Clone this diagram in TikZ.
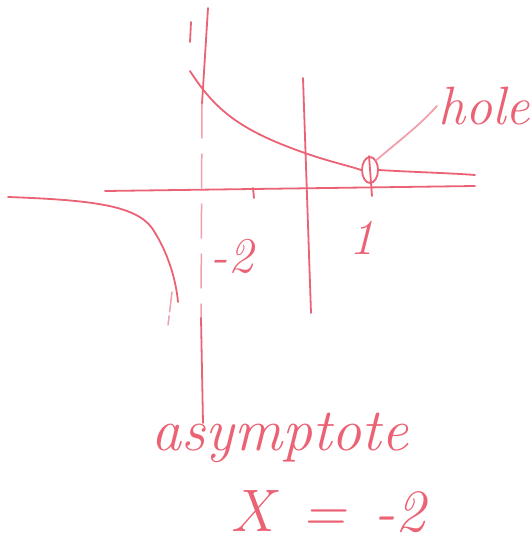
\documentclass[tikz,border=0pt]{standalone}
\usepackage{xcolor}
\usepackage{tikz}
\usetikzlibrary{arrows.meta,positioning,shapes.geometric}
\definecolor{inkred}{RGB}{234,98,116}
\definecolor{inkpale}{RGB}{240,160,172}
\tikzset{
  ink/.style={
    draw=inkred,
    line width=1.8pt,
    line cap=round,
    line join=round
  },
  faintink/.style={
    draw=inkpale,
    line width=1.5pt,
    line cap=round,
    dash pattern=on 34pt off 16pt
  },
  hand/.style={
    text=inkred,
    inner sep=1pt,
    font=\itshape\fontsize{50}{50}\selectfont
  },
  bighand/.style={
    text=inkred,
    inner sep=1pt,
    font=\itshape\fontsize{60}{60}\selectfont
  },
  holemark/.style={
    draw=inkred,
    line width=1.8pt,
    ellipse,
    minimum width=16pt,
    minimum height=26pt,
    inner sep=0pt
  }
}

\begin{document}
\begin{tikzpicture}[x=1pt,y=-1pt]
  \useasboundingbox (0,0) rectangle (532,557);

  \node[holemark] (hole) at (370,170) {};
  \node[hand, font=\itshape\fontsize{54}{54}\selectfont] (holelabel) at (484,106) {hole};
  \node[hand] (one) at (362,238) {1};
  \node[hand] (mtwo) at (232,256) {-2};
  \node[bighand] (asym) at (280,438) {asymptote};
  \node[bighand] (eqn) at (328,512) {X\hspace{28pt}=\hspace{28pt}-2};

  \coordinate (vtop) at (208,8);
  \coordinate (vmid) at (202,104);
  \coordinate (vlow) at (201,318);
  \coordinate (vend) at (203,423);

  \draw[ink] (105,191) -- (475,186);
  \draw[ink] (303,78) -- (311,313);
  \draw[ink] (vtop) -- (vmid);
  \draw[faintink] (vmid) -- (vlow);
  \draw[ink] (vlow) -- (vend);
  \draw[ink] (191,22) -- (190,42);
  \draw[ink] (253,188) -- (254,198);
  \draw[ink] (369,156) -- (372,196);

  \draw[ink] (190,71) .. controls (215,110) and (240,130) .. (302,152)
    .. controls (330,162) and (350,166) .. (hole.west);
  \draw[ink] (hole.east) .. controls (410,172) and (450,173) .. (475,175);
  \draw[ink] (8,197) .. controls (90,200) and (135,205) .. (152,228)
    .. controls (168,252) and (176,280) .. (178,302);
  \draw[faintink, dash pattern=on 20pt off 4pt] (172,292) -- (168,325);

  \draw[ink, draw=inkpale] (hole.north east) .. controls (400,140) and (420,125) .. (holelabel.west);
\end{tikzpicture}
\end{document}
